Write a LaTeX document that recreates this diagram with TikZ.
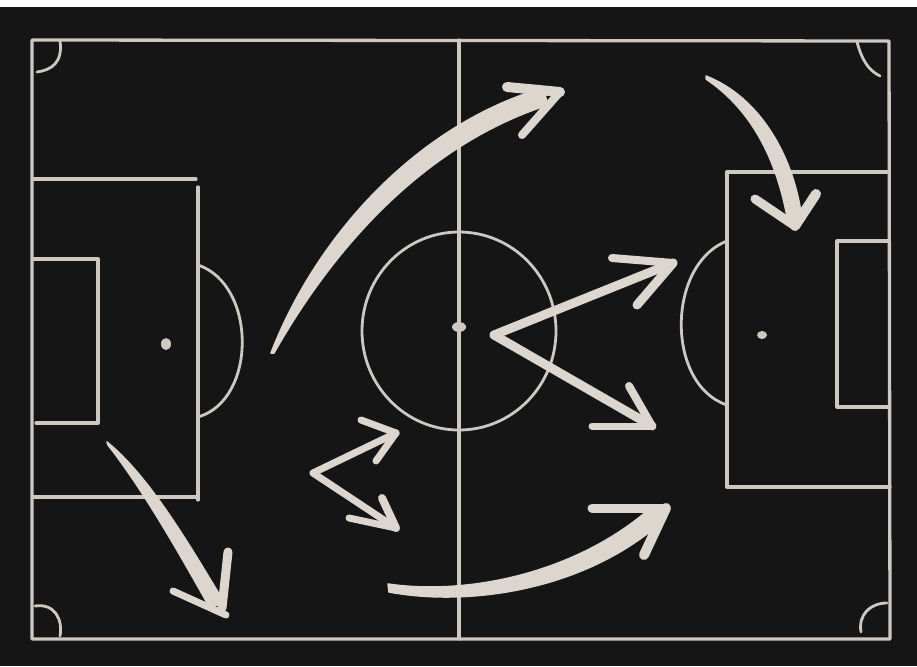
\documentclass[tikz,border=0pt]{standalone}
\usetikzlibrary{calc}
\definecolor{board}{HTML}{151515}
\definecolor{chalk}{HTML}{DCD6CF}
\definecolor{fieldline}{HTML}{CFC8C0}
\tikzset{
  fieldstroke/.style={draw=fieldline, line width=3.3pt, line cap=round, line join=round},
  arcstroke/.style={draw=fieldline, line width=2.8pt, line cap=round},
  shaft/.style={draw=chalk, line width=9pt, line cap=round},
  barb/.style={draw=chalk, line width=7pt, line cap=round},
  taper/.style={fill=chalk, draw=chalk, line width=1.5pt, line join=round},
}
\begin{document}
\begin{tikzpicture}[x=1pt,y=-1pt]
\useasboundingbox (0,0) rectangle (917,666);
\fill[white] (0,0) rectangle (917,666);
\fill[board] (0,7) rectangle (917,666);

% outer lines
\draw[fieldstroke] (32,40) -- (889,41) -- (890,639) -- (32,639) -- cycle;
% halfway line
\draw[fieldstroke] (459,40) -- (459,639);
% centre circle and spot
\draw[arcstroke] (459,331) ellipse [x radius=97, y radius=99];
\fill[fieldline] (459,327) ellipse [x radius=7, y radius=5];

% left penalty area
\draw[fieldstroke] (34,179) -- (196,179);
\draw[fieldstroke] (198,187) -- (198,500);
\draw[fieldstroke] (34,497) -- (198,497);
% left goal area
\draw[fieldstroke] (34,259) -- (98,259) -- (98,423) -- (36,423);
% left spot and arc
\fill[fieldline] (166,344) ellipse [x radius=5, y radius=6];
\draw[arcstroke] (198,265) .. controls (257,285) and (257,400) .. (198,417);

% right penalty area
\draw[fieldstroke] (887,172) -- (727,172) -- (727,487) -- (890,487);
% right goal area
\draw[fieldstroke] (888,241) -- (837,241) -- (837,407) -- (889,407);
% right spot and arc
\fill[fieldline] (762,335) ellipse [x radius=5, y radius=4];
\draw[arcstroke] (727,241) .. controls (666,265) and (666,385) .. (727,405);

% corner arcs
\draw[arcstroke] (60,41) .. controls (63,62) and (52,70) .. (37,72);
\draw[arcstroke] (857,42) .. controls (862,60) and (868,70) .. (880,76);
\draw[arcstroke] (35,606) .. controls (55,603) and (63,620) .. (60,636);
\draw[arcstroke] (887,603) .. controls (870,603) and (858,615) .. (861,632);

% arrow 1 (big curve to top centre)
\coordinate (a1tip) at (560,92);
\path[taper] (271,353) .. controls (318,232) and (420,124) .. (543,88)
  -- (548,105) .. controls (430,143) and (338,240) .. (274,353) -- cycle;
\draw[barb, line width=10pt] (507,87) -- (a1tip);
\draw[barb, line width=8pt] (522,135) -- (a1tip);

% arrow 2 (top right, downward)
\coordinate (a2tip) at (795,226);
\path[taper] (706,76) .. controls (762,98) and (795,160) .. (802,220)
  -- (788,222) .. controls (778,165) and (755,112) .. (706,79) -- cycle;
\draw[barb, line width=9pt] (755,199) -- (a2tip);
\draw[barb, line width=10pt] (816,194) -- (a2tip);

% arrow 3 (centre pair)
\coordinate (a3o) at (494,335);
\coordinate (a3up) at (673,263);
\coordinate (a3dn) at (652,426);
\draw[shaft] (a3o) -- (a3up);
\draw[shaft] (a3o) -- (a3dn);
\draw[barb, line width=8pt] (612,258) -- (a3up);
\draw[barb, line width=9pt] (637,305) -- (a3up);
\draw[barb] (592,426) -- (a3dn);
\draw[barb, line width=8pt] (629,386) -- (a3dn);

% arrow 4 (small pair left of centre)
\coordinate (a4o) at (313,473);
\coordinate (a4up) at (396,433);
\coordinate (a4dn) at (396,528);
\draw[shaft, line width=7pt] (a4o) -- (a4up);
\draw[shaft, line width=7pt] (a4o) -- (a4dn);
\draw[barb, line width=7pt] (361,420) -- (a4up);
\draw[barb, line width=7pt] (376,461) -- (a4up);
\draw[barb, line width=7pt] (349,518) -- (a4dn);
\draw[barb, line width=8pt] (382,498) -- (a4dn);

% arrow 5 (bottom curve)
\coordinate (a5tip) at (666,508);
\path[taper] (388,584) .. controls (470,596) and (580,572) .. (654,505)
  -- (666,518) .. controls (588,590) and (470,607) .. (389,592) -- cycle;
\draw[barb, line width=9pt] (592,508) -- (a5tip);
\draw[barb, line width=10pt] (644,555) -- (a5tip);

% arrow 6 (bottom left)
\coordinate (a6tip) at (222,608);
\path[taper] (107,442) .. controls (152,478) and (197,558) .. (224,602)
  -- (210,608) .. controls (184,562) and (145,492) .. (108,445) -- cycle;
\draw[barb, line width=7pt] (173,591) -- (226,615);
\draw[barb, line width=9pt] (228,552) -- (a6tip);
\end{tikzpicture}
\end{document}
